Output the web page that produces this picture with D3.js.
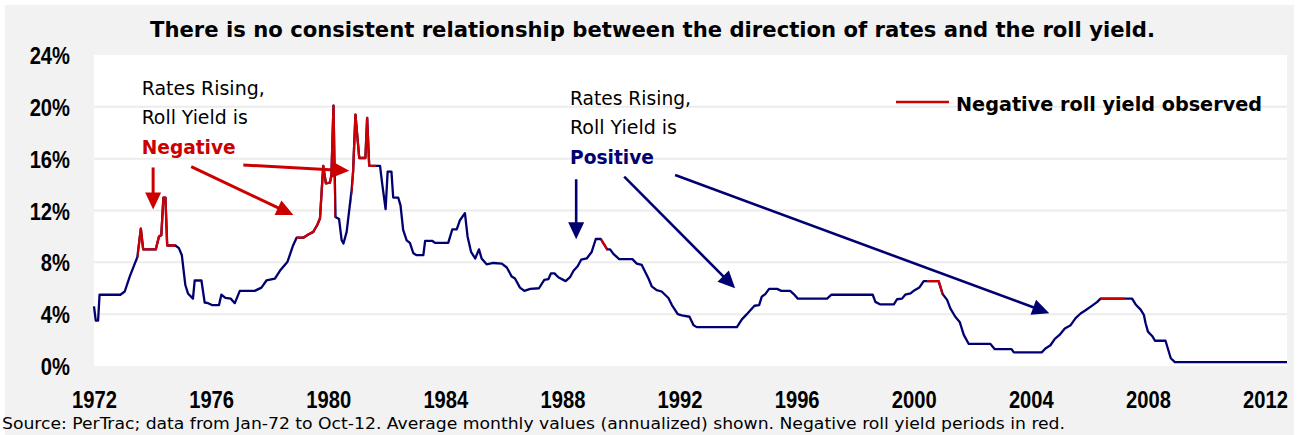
<!DOCTYPE html>
<html><head><meta charset="utf-8">
<script src="https://cdn.jsdelivr.net/npm/d3@7"></script>
<style>body{margin:0;background:#fff}svg{display:block}</style>
</head><body>
<script>
// ---- data (decimal year, annualized %) ----
const years = [1972.00,1972.06,1972.14,1972.19,1972.90,1973.05,1973.22,1973.48,1973.60,1973.68,1974.11,1974.22,1974.30,1974.37,1974.44,1974.50,1974.78,1974.90,1975.00,1975.12,1975.21,1975.38,1975.44,1975.67,1975.78,1975.90,1976.03,1976.27,1976.35,1976.49,1976.67,1976.81,1976.98,1977.49,1977.72,1977.89,1978.18,1978.35,1978.61,1978.80,1978.92,1979.15,1979.32,1979.49,1979.63,1979.72,1979.83,1979.92,1980.06,1980.11,1980.18,1980.25,1980.37,1980.46,1980.52,1980.63,1980.80,1980.85,1980.93,1981.06,1981.27,1981.33,1981.40,1981.77,1981.85,1981.96,1982.03,1982.16,1982.22,1982.39,1982.47,1982.56,1982.68,1982.79,1982.91,1983.02,1983.25,1983.31,1983.56,1983.65,1984.10,1984.24,1984.39,1984.50,1984.67,1984.76,1984.88,1985.02,1985.15,1985.24,1985.41,1985.64,1985.93,1986.10,1986.27,1986.38,1986.55,1986.70,1986.90,1987.20,1987.38,1987.52,1987.61,1987.73,1987.86,1988.11,1988.26,1988.38,1988.52,1988.64,1988.83,1989.00,1989.14,1989.31,1989.53,1989.63,1989.74,1989.94,1990.39,1990.54,1990.71,1990.82,1990.94,1991.05,1991.22,1991.39,1991.62,1991.74,1991.94,1992.08,1992.34,1992.48,1992.59,1993.96,1994.13,1994.30,1994.42,1994.56,1994.72,1994.81,1994.93,1995.06,1995.33,1995.48,1995.78,1995.90,1996.04,1997.04,1997.19,1998.60,1998.69,1998.86,1999.32,1999.43,1999.60,1999.71,1999.89,2000.03,2000.19,2000.34,2000.85,2000.99,2001.14,2001.25,2001.42,2001.57,2001.71,2001.88,2002.62,2002.77,2003.34,2003.42,2004.37,2004.50,2004.67,2004.82,2004.98,2005.16,2005.36,2005.53,2005.70,2005.87,2006.12,2006.27,2006.38,2007.46,2007.58,2007.75,2007.86,2007.92,2008.00,2008.15,2008.24,2008.60,2008.78,2008.92,2012.75];
const rates = [4.6,3.5,3.5,5.5,5.5,5.75,6.9,8.4,10.6,9.0,9.0,10.0,10.1,13.0,13.0,9.3,9.3,9.1,8.55,6.25,5.6,5.2,6.6,6.6,4.9,4.85,4.7,4.7,5.5,5.25,5.2,4.85,5.8,5.8,6.05,6.6,6.75,7.35,8.05,9.3,9.9,9.9,10.15,10.35,10.9,11.4,15.45,14.1,14.15,14.75,20.1,11.5,11.35,9.7,9.45,10.35,13.6,15.0,19.4,16.05,16.05,19.15,15.45,15.45,13.95,12.1,15.0,15.0,13.0,13.0,12.4,10.5,9.7,9.5,8.7,8.55,8.55,9.65,9.65,9.5,9.5,10.55,10.55,11.25,11.8,10.0,8.8,8.3,9.0,8.3,7.85,7.95,7.9,7.6,6.9,6.75,6.05,5.8,5.95,6.0,6.65,6.7,7.15,7.15,6.85,6.55,6.85,7.35,7.7,8.2,8.3,8.8,9.8,9.8,9.0,9.0,8.65,8.25,8.25,7.9,7.8,7.3,6.75,6.15,5.85,5.75,5.25,4.7,4.0,3.9,3.8,3.15,3.0,3.0,3.6,4.0,4.3,4.65,4.7,5.35,5.55,5.95,5.95,5.8,5.8,5.55,5.2,5.2,5.5,5.5,4.95,4.75,4.75,5.15,5.2,5.5,5.6,5.85,6.05,6.55,6.55,5.55,5.1,4.45,3.8,3.4,2.4,1.7,1.7,1.3,1.3,1.05,1.05,1.35,1.6,2.1,2.4,2.9,3.15,3.7,4.05,4.3,4.7,4.95,5.2,5.2,4.75,4.35,3.95,3.3,2.65,2.3,1.95,1.95,0.6,0.3,0.3];
// negative roll yield periods (start, end)
const negStart = [1973.48, 1978.92, 1980.79, 1989.31, 2000.45, 2006.38];
const negEnd   = [1974.77, 1980.25, 1981.64, 1989.53, 2000.99, 2007.21];
const yTicks = [0, 4, 8, 12, 16, 20, 24];
const xTicks = [1972, 1976, 1980, 1984, 1988, 1992, 1996, 2000, 2004, 2008, 2012];
const titleText = "There is no consistent relationship between the direction of rates and the roll yield.";
const sourceText = "Source: PerTrac; data from Jan-72 to Oct-12. Average monthly values (annualized) shown. Negative roll yield periods in red.";
const legendText = "Negative roll yield observed";

// ---- layout ----
const W = 1299, H = 435;
const BLUE = "#000070", RED = "#cc0000";
const TXT = "'DejaVu Sans Condensed','DejaVu Sans',sans-serif";
const NARROW = "'Liberation Sans',Arial,sans-serif";

const svg = d3.select("body").append("svg").attr("width", W).attr("height", H);
svg.append("rect").attr("x", 5).attr("y", 5).attr("width", W - 10).attr("height", H - 5).attr("fill", "#f2f2f2");

const x = d3.scaleLinear().domain([1972, 2012.75]).range([94, 1287]);
const y = d3.scaleLinear().domain([0, 24]).range([366, 55]);

svg.append("rect").attr("x", x(1972)).attr("y", y(24))
  .attr("width", x(2012.75) - x(1972)).attr("height", y(0) - y(24)).attr("fill", "#fff");

// gridlines
svg.append("g").selectAll("line").data(yTicks.filter(t => t > 0 && t < 24)).join("line")
  .attr("x1", x(1972)).attr("x2", x(2012.75)).attr("y1", d => y(d)).attr("y2", d => y(d))
  .attr("stroke", "#ececec").attr("stroke-width", 2);

function narrowen(sel) {
  sel.attr("font-family", NARROW).attr("font-weight", "bold").attr("font-size", 24).attr("fill", "#000")
    .each(function () {
      const w = this.getComputedTextLength();
      d3.select(this).attr("textLength", w * 0.84).attr("lengthAdjust", "spacingAndGlyphs");
    });
}

// y axis labels
const yAxis = d3.axisLeft(y).tickValues(yTicks).tickFormat(d => d + "%").tickSize(0).tickPadding(0);
const gy = svg.append("g").attr("transform", "translate(70,0)").call(yAxis);
gy.select(".domain").remove();
gy.selectAll("text").attr("dy", "0.36em").call(narrowen);

// x axis labels
const xAxis = d3.axisBottom(x).tickValues(xTicks).tickFormat(d3.format("d")).tickSize(0).tickPadding(0);
const gx = svg.append("g").attr("transform", "translate(0,390)").call(xAxis);
gx.select(".domain").remove();
gx.selectAll("text").attr("dy", "0.74em").call(narrowen);

// line
const pts = years.map((yr, i) => [yr, rates[i]]);
const line = d3.line().x(d => x(d[0])).y(d => y(d[1]));
svg.append("path").datum(pts).attr("d", line).attr("fill", "none")
  .attr("stroke", BLUE).attr("stroke-width", 2.3).attr("stroke-linejoin", "round");

const defs = svg.append("defs");
const cp = defs.append("clipPath").attr("id", "neg");
negStart.forEach((s, i) => {
  cp.append("rect").attr("x", x(s)).attr("y", 0).attr("width", x(negEnd[i]) - x(s)).attr("height", H);
});
svg.append("path").datum(pts).attr("d", line).attr("fill", "none").attr("clip-path", "url(#neg)")
  .attr("stroke", RED).attr("stroke-width", 2.3).attr("stroke-linejoin", "round");

// ---- annotations (anchored in data space) ----
const redArrows = [
  [[1974.02, 15.32], [1974.02, 12.08]],
  [[1975.32, 15.38], [1978.81, 11.65]],
  [[1977.10, 15.51], [1980.72, 15.07]]
];
const blueArrows = [
  [[1988.47, 14.41], [1988.47, 9.78]],
  [[1990.11, 14.61], [1993.90, 6.0]],
  [[1991.85, 14.74], [2004.63, 4.07]]
];
function arrow(a, color, sw) {
  const x0 = x(a[0][0]), y0 = y(a[0][1]), x1 = x(a[1][0]), y1 = y(a[1][1]);
  const dx = x1 - x0, dy = y1 - y0, L = Math.hypot(dx, dy), ux = dx / L, uy = dy / L;
  const hl = 17, hw = 8;
  const bx = x1 - ux * hl, by = y1 - uy * hl;
  svg.append("line").attr("x1", x0).attr("y1", y0).attr("x2", bx + ux * 2).attr("y2", by + uy * 2)
    .attr("stroke", color).attr("stroke-width", sw);
  svg.append("path").attr("d", `M${x1},${y1}L${bx - uy * hw},${by + ux * hw}L${bx + uy * hw},${by - ux * hw}Z`)
    .attr("fill", color);
}
redArrows.forEach(a => arrow(a, RED, 3));
blueArrows.forEach(a => arrow(a, BLUE, 2.6));

function block(x0, yBase, lines, widths, emphColor) {
  lines.forEach((t, i) => {
    svg.append("text").attr("x", x(x0)).attr("y", yBase + i * 29.3)
      .attr("font-family", TXT).attr("font-size", 19).text(t)
      .attr("fill", i === 2 ? emphColor : "#000").attr("font-weight", i === 2 ? "bold" : "normal")
      .attr("textLength", widths[i]).attr("lengthAdjust", "spacingAndGlyphs");
  });
}
block(1973.63, 95, ["Rates Rising,", "Roll Yield is", "Negative"], [123, 106, 94], RED);
block(1988.26, 105, ["Rates Rising,", "Roll Yield is", "Positive"], [121, 107, 84], BLUE);

// legend
svg.append("line").attr("x1", 896).attr("x2", 949).attr("y1", 102).attr("y2", 102)
  .attr("stroke", RED).attr("stroke-width", 2.3);
svg.append("text").attr("x", 956).attr("y", 110.5).attr("font-family", TXT).attr("font-weight", "bold")
  .attr("font-size", 20).attr("textLength", 306).attr("lengthAdjust", "spacingAndGlyphs").text(legendText);

// title
svg.append("text").attr("x", 150).attr("y", 37).attr("font-family", TXT).attr("font-weight", "bold")
  .attr("font-size", 22).attr("textLength", 1005).attr("lengthAdjust", "spacingAndGlyphs").text(titleText);

// source
svg.append("text").attr("x", 2).attr("y", 429).attr("font-family", TXT)
  .attr("font-size", 16).attr("textLength", 1063).attr("lengthAdjust", "spacingAndGlyphs").text(sourceText);
</script>
</body></html>
